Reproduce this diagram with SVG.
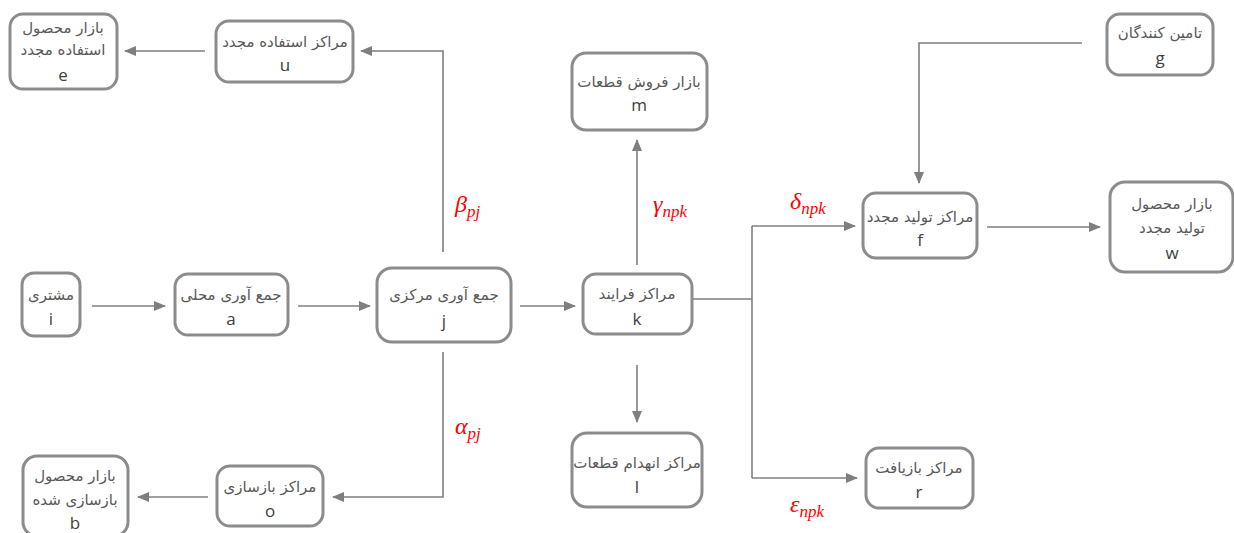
<svg xmlns="http://www.w3.org/2000/svg" width="1234" height="533" viewBox="0 0 1234 533">
<style>
.box{fill:#fff;stroke:#8c8c8c;stroke-width:3}
.fa{font-family:"DejaVu Sans","Noto Sans",sans-serif;font-size:15px;fill:#595959;text-anchor:middle}
.la{font-family:"Open Sans","Liberation Sans",sans-serif;font-size:17px;fill:#404040;text-anchor:middle}
.c{fill:none;stroke:#7f7f7f;stroke-width:1.6}
.g{font-family:"Liberation Serif","DejaVu Serif",serif;font-style:italic;fill:#ff0000;font-size:24px}
.s{font-size:17px}
</style>
<defs>
<marker id="ah" markerUnits="userSpaceOnUse" markerWidth="12" markerHeight="10" refX="11" refY="5" orient="auto">
<path d="M0,0 L12,5 L0,10 Z" fill="#7f7f7f"/>
</marker>
</defs>
<g id="connectors">
<path class="c" d="M92,306 H165" marker-end="url(#ah)"/>
<path class="c" d="M298,306 H370" marker-end="url(#ah)"/>
<path class="c" d="M520,306 H575" marker-end="url(#ah)"/>
<path class="c" d="M443,252 V51 H361" marker-end="url(#ah)"/>
<path class="c" d="M205,51 H125" marker-end="url(#ah)"/>
<path class="c" d="M443,352 V497 H333" marker-end="url(#ah)"/>
<path class="c" d="M208,497 H138" marker-end="url(#ah)"/>
<path class="c" d="M637,265 V140" marker-end="url(#ah)"/>
<path class="c" d="M637,365 V422" marker-end="url(#ah)"/>
<path class="c" d="M692,299 H752"/>
<path class="c" d="M752,226 V478"/>
<path class="c" d="M752,226 H855" marker-end="url(#ah)"/>
<path class="c" d="M752,478 H857" marker-end="url(#ah)"/>
<path class="c" d="M1082,43 H919 V183" marker-end="url(#ah)"/>
<path class="c" d="M987,227 H1100" marker-end="url(#ah)"/>
</g>
<g id="labels">
<text class="g" x="455" y="212">β<tspan class="s" dy="5">pj</tspan></text>
<text class="g" x="653" y="212">γ<tspan class="s" dy="5">npk</tspan></text>
<text class="g" x="790" y="209">δ<tspan class="s" dy="5">npk</tspan></text>
<text class="g" x="455" y="434">α<tspan class="s" dy="5">pj</tspan></text>
<text class="g" x="790" y="512">ε<tspan class="s" dy="5">npk</tspan></text>
</g>
<g id="node-e"><rect class="box" x="10" y="14" width="107" height="75" rx="13"/>
<text class="fa" x="63" y="33">بازار محصول</text><text class="fa" x="63" y="55">استفاده مجدد</text><text class="la" x="63" y="81">e</text></g>
<g id="node-u"><rect class="box" x="216" y="21" width="137" height="61" rx="13"/>
<text class="fa" x="285" y="47">مراکز استفاده مجدد</text><text class="la" x="285" y="71">u</text></g>
<g id="node-m"><rect class="box" x="572" y="53" width="135" height="77" rx="14"/>
<text class="fa" x="639" y="87">بازار فروش قطعات</text><text class="la" x="639" y="111">m</text></g>
<g id="node-g"><rect class="box" x="1107" y="14" width="106" height="61" rx="13"/>
<text class="fa" x="1160" y="38">تامین کنندگان</text><text class="la" x="1160" y="64">g</text></g>
<g id="node-f"><rect class="box" x="863" y="193" width="114" height="65" rx="13"/>
<text class="fa" x="920" y="222">مراکز تولید مجدد</text><text class="la" x="920" y="246">f</text></g>
<g id="node-w"><rect class="box" x="1110" y="182" width="123" height="90" rx="15"/>
<text class="fa" x="1172" y="209">بازار محصول</text><text class="fa" x="1172" y="233">تولید مجدد</text><text class="la" x="1172" y="259">w</text></g>
<g id="node-i"><rect class="box" x="22" y="273" width="58" height="63" rx="12"/>
<text class="fa" x="51" y="300">مشتری</text><text class="la" x="51" y="325">i</text></g>
<g id="node-a"><rect class="box" x="175" y="274" width="113" height="61" rx="13"/>
<text class="fa" x="231" y="300">جمع آوری محلی</text><text class="la" x="231" y="325">a</text></g>
<g id="node-j"><rect class="box" x="377" y="268" width="134" height="74" rx="15"/>
<text class="fa" x="444" y="300">جمع آوری مرکزی</text><text class="la" x="444" y="327">j</text></g>
<g id="node-k"><rect class="box" x="583" y="274" width="109" height="60" rx="13"/>
<text class="fa" x="637" y="299">مراکز فرایند</text><text class="la" x="637" y="325">k</text></g>
<g id="node-l"><rect class="box" x="572" y="433" width="130" height="74" rx="15"/>
<text class="fa" x="637" y="468">مراکز انهدام قطعات</text><text class="la" x="637" y="493">l</text></g>
<g id="node-r"><rect class="box" x="866" y="448" width="107" height="60" rx="13"/>
<text class="fa" x="919" y="473">مراکز بازیافت</text><text class="la" x="919" y="498">r</text></g>
<g id="node-o"><rect class="box" x="217" y="466" width="106" height="60" rx="13"/>
<text class="fa" x="270" y="492">مراکز بازسازی</text><text class="la" x="270" y="517">o</text></g>
<g id="node-b"><rect class="box" x="23" y="456" width="105" height="80" rx="14"/>
<text class="fa" x="75" y="481">بازار محصول</text><text class="fa" x="75" y="505">بازسازی شده</text><text class="la" x="75" y="529">b</text></g>
</svg>
